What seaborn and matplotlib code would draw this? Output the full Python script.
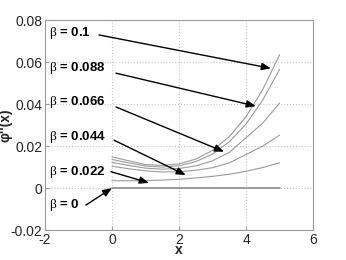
import numpy as np
import pandas as pd
import matplotlib
matplotlib.use("Agg")
import matplotlib.pyplot as plt
import seaborn as sns

x_vals = [0, 0.5, 1, 1.5, 2, 2.5, 3, 3.5, 4, 4.5, 5]
beta_labels = ["0.1", "0.088", "0.066", "0.044", "0.022", "0"]
curve_01 = [0.0148, 0.0130, 0.0112, 0.0108, 0.0115, 0.0138, 0.0180, 0.0245, 0.0340, 0.0470, 0.0635]
curve_0088 = [0.0136, 0.0120, 0.0105, 0.0100, 0.0106, 0.0126, 0.0162, 0.0220, 0.0305, 0.0420, 0.0565]
curve_0066 = [0.0122, 0.0108, 0.0095, 0.0090, 0.0093, 0.0106, 0.0130, 0.0170, 0.0240, 0.0310, 0.0405]
curve_0044 = [0.0104, 0.0092, 0.0082, 0.0077, 0.0078, 0.0085, 0.0097, 0.0120, 0.0160, 0.0200, 0.0252]
curve_0022 = [0.0035, 0.0035, 0.0036, 0.0038, 0.0042, 0.0048, 0.0056, 0.0066, 0.0080, 0.0098, 0.0120]
curve_0 = [0, 0, 0, 0, 0, 0, 0, 0, 0, 0, 0]

# annotation: label position, arrow start, arrow tip
label_y = [0.0738, 0.0571, 0.041, 0.0243, 0.0076, -0.0081]
arrow_start = [(-0.39, 0.0729), (0.12, 0.0547), (0.12, 0.0386), (0.06, 0.0228), (-0.03, 0.0078), (-0.78, -0.0081)]
arrow_tip = [(4.74, 0.0570), (4.29, 0.0390), (3.34, 0.0173), (2.20, 0.0062), (1.10, 0.0025), (0.0, 0.0)]

curves = [curve_01, curve_0088, curve_0066, curve_0044, curve_0022, curve_0]
rows = []
for b, c in zip(beta_labels, curves):
    for xv, yv in zip(x_vals, c):
        rows.append({"x": xv, "y": yv, "beta": b})
df = pd.DataFrame(rows)

sns.set_style("ticks")
plt.rcParams['font.family'] = ['Liberation Sans', 'DejaVu Sans']
plt.rcParams['mathtext.fontset'] = 'custom'
plt.rcParams['mathtext.rm'] = 'Liberation Serif'

fig = plt.figure(figsize=(3.46, 2.60), dpi=100)
ax = fig.add_axes([0.130, 0.115, 0.775, 0.808])

palette = {b: "#9a9a9a" for b in beta_labels}
palette["0"] = "#8a8a8a"
sns.lineplot(data=df, x="x", y="y", hue="beta", palette=palette, ax=ax,
             legend=False, linewidth=0.8, sort=False)
ax.lines[-1].set_linewidth(1.2)

for b, ly, s, t in zip(beta_labels, label_y, arrow_start, arrow_tip):
    ax.text(-1.88, ly, r"$\mathrm{\beta}$ = " + b, fontsize=9.5, fontweight="bold",
            va="center", ha="left", color="black")
    ax.annotate("", xy=t, xytext=s,
                arrowprops=dict(arrowstyle="-|>,head_length=0.55,head_width=0.22",
                                color="black", lw=1.0, shrinkA=0, shrinkB=0))

ax.set_xlim(-2, 6)
ax.set_ylim(-0.02, 0.08)
ax.set_xticks([-2, 0, 2, 4, 6])
ax.set_xticklabels(["-2", "0", "2", "4", "6"])
ax.set_yticks([-0.02, 0, 0.02, 0.04, 0.06, 0.08])
ax.set_yticklabels(["-0.02", "0", "0.02", "0.04", "0.06", "0.08"])
ax.tick_params(direction="in", labelsize=10, length=3, color="#999999", pad=2)
ax.grid(True, linestyle=":", color="#c8c8c8", linewidth=0.8)
for sp in ax.spines.values():
    sp.set_visible(True)
    sp.set_color("#999999")
    sp.set_linewidth(0.8)
ax.set_xlabel("x", fontsize=10, fontweight="bold")
ax.set_ylabel("φ''(x)", fontsize=10, fontweight="bold")
ax.xaxis.set_label_coords(0.5, -0.06)
ax.yaxis.set_label_coords(-0.12, 0.5)

fig.savefig("out.png", dpi=100)
